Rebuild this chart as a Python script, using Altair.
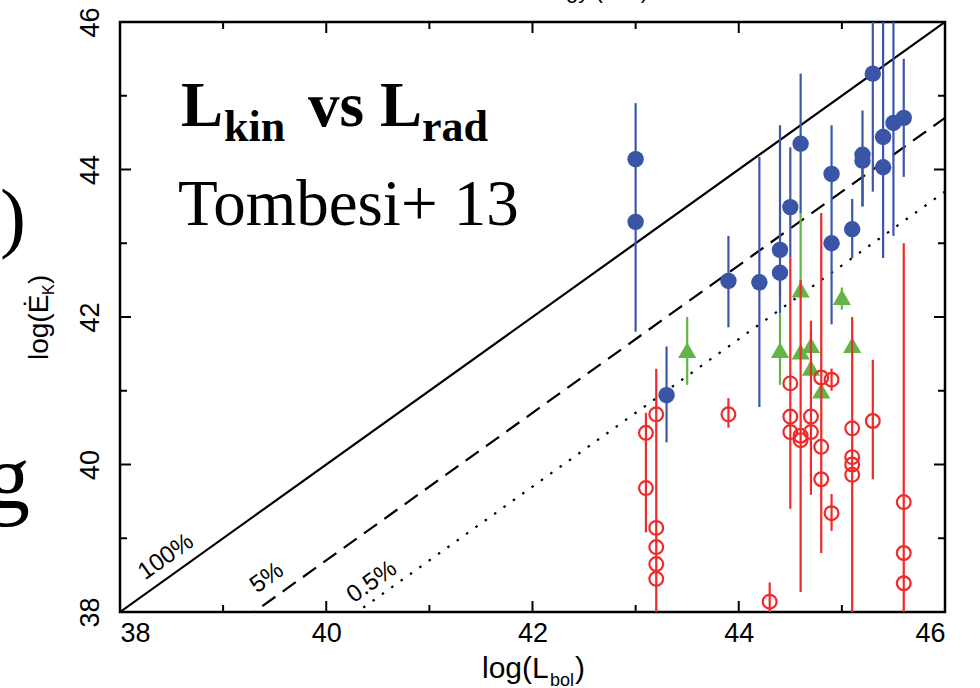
import altair as alt
import pandas as pd

# ---------------- data ----------------
# reference lines: Edot_K = L_bol (100%), 5% and 0.5%
line_x = [38.0, 46.0]
line_100 = [38.0, 46.0]
line_5 = [36.7, 44.7]
line_05 = [35.7, 43.7]

# blue filled circles
blue_x = [43.0, 43.0, 43.3, 43.9, 44.2, 44.4, 44.4, 44.5, 44.6, 44.9, 44.9, 45.1, 45.2, 45.2, 45.3, 45.4, 45.4, 45.5, 45.6]
blue_y = [44.14, 43.29, 40.94, 42.49, 42.47, 42.91, 42.60, 43.49, 44.35, 43.94, 43.00, 43.19, 44.20, 44.12, 45.30, 44.44, 44.03, 44.63, 44.70]
blue_lo = [43.29, 41.80, 40.30, 41.86, 40.78, 42.30, 42.05, 42.81, 43.41, 43.00, 41.90, 42.80, 43.50, 43.50, 43.70, 44.03, 42.80, 43.10, 43.90]
blue_hi = [44.90, 43.29, 41.60, 43.10, 44.17, 44.60, 42.60, 44.30, 45.30, 44.60, 43.00, 43.60, 44.80, 44.12, 46.30, 46.30, 44.03, 46.30, 45.50]

# green triangles
green_x = [43.5, 44.4, 44.6, 44.6, 44.7, 44.7, 44.8, 45.0, 45.1]
green_y = [41.55, 41.55, 42.37, 41.53, 41.62, 41.31, 41.00, 42.27, 41.62]
green_lo = [41.08, 41.08, 42.37, 41.53, 41.62, 41.31, 41.00, 42.10, 41.62]
green_hi = [42.00, 42.05, 43.41, 41.53, 41.78, 41.31, 41.00, 42.40, 41.62]

# red open circles
red_x = [43.1, 43.1, 43.2, 43.2, 43.2, 43.2, 43.2, 43.9, 44.3, 44.5, 44.5, 44.5, 44.6, 44.6, 44.7,
         44.7, 44.8, 44.8, 44.8, 44.9, 44.9, 45.1, 45.1, 45.1, 45.1, 45.3, 45.6, 45.6, 45.6]
red_y = [40.43, 39.68, 40.68, 39.14, 38.88, 38.65, 38.45, 40.68, 38.14, 41.10, 40.65, 40.44, 40.39, 40.33, 40.65,
         40.44, 41.18, 40.24, 39.80, 41.15, 39.34, 40.49, 40.10, 40.00, 39.86, 40.59, 39.49, 38.80, 38.39]
red_lo = [39.08, 39.68, 37.50, 39.14, 38.88, 38.65, 38.45, 40.50, 37.50, 39.40, 40.65, 40.44, 38.27, 40.33, 39.59,
          40.44, 38.80, 40.24, 39.80, 41.00, 39.10, 37.50, 40.10, 40.00, 39.86, 39.80, 37.50, 38.80, 38.39]
red_hi = [40.70, 39.68, 41.30, 39.14, 38.88, 38.65, 38.45, 40.90, 38.40, 42.81, 40.65, 40.44, 42.50, 40.33, 41.95,
          40.44, 43.41, 40.24, 39.80, 41.30, 39.60, 42.00, 40.10, 40.00, 39.86, 41.42, 43.00, 38.80, 38.39]

major_ticks = [38, 40, 42, 44, 46]
minor_ticks = [39, 41, 43, 45]

# ---------------- chart ----------------
W, H = 825, 590
SANS = "Liberation Sans"
SERIF = "Liberation Serif"

xs = alt.Scale(domain=[38, 46], nice=False, zero=False)
ys = alt.Scale(domain=[38, 46], nice=False, zero=False)
AX = alt.Axis(values=major_ticks, title=None, grid=False, ticks=False, tickSize=0, domain=False,
              labelFont=SANS, labelFontSize=27, labelColor="black", labelPadding=8, labelFlush=True)
AY = alt.Axis(values=major_ticks, title=None, grid=False, ticks=False, tickSize=0, domain=False,
              labelFont=SANS, labelFontSize=27, labelColor="black", labelAngle=270,
              labelAlign="center", labelBaseline="alphabetic", labelPadding=22, labelFlush=False)


def X(f):
    return alt.X(f, type="quantitative", scale=xs, axis=AX)


def Y(f):
    return alt.Y(f, type="quantitative", scale=ys, axis=AY)


layers = []

# lines
for ys_line, dash in [(line_100, []), (line_5, [16, 9]), (line_05, [2.5, 9])]:
    df = pd.DataFrame({"x": line_x, "y": ys_line})
    mk = dict(color="black", strokeWidth=2.2, clip=True)
    if dash:
        mk["strokeDash"] = dash
    layers.append(alt.Chart(df).mark_line(**mk).encode(x=X("x"), y=Y("y")))


def series(xv, yv, lo, hi, color, point_kwargs):
    df = pd.DataFrame({"x": xv, "y": yv, "lo": lo, "hi": hi})
    bars = alt.Chart(df).mark_rule(color=color, strokeWidth=2.2, clip=True).encode(
        x=X("x"), y=Y("lo"), y2="hi")
    pts = alt.Chart(df).mark_point(**point_kwargs).encode(x=X("x"), y=Y("y"))
    return [bars, pts]


layers += series(blue_x, blue_y, blue_lo, blue_hi, "#3b57aa",
                 dict(shape="circle", filled=True, size=270, color="#3a55a6", opacity=1))
layers += series(green_x, green_y, green_lo, green_hi, "#62b446",
                 dict(shape="triangle-up", filled=True, size=330, color="#62b446", opacity=1))
layers += series(red_x, red_y, red_lo, red_hi, "#ee2a2a",
                 dict(shape="circle", filled=False, size=190, color="#ee2a2a", strokeWidth=2.2, opacity=1))

# inward ticks on all four sides
for ticks, L in [(major_ticks, 11), (minor_ticks, 7)]:
    tdf = pd.DataFrame({"t": ticks})
    tk = dict(color="black", strokeWidth=2)
    layers.append(alt.Chart(tdf).mark_rule(**tk).encode(x=X("t"), y=alt.value(H), y2=alt.value(H - L)))
    layers.append(alt.Chart(tdf).mark_rule(**tk).encode(x=X("t"), y=alt.value(0), y2=alt.value(L)))
    layers.append(alt.Chart(tdf).mark_rule(**tk).encode(y=Y("t"), x=alt.value(0), x2=alt.value(L)))
    layers.append(alt.Chart(tdf).mark_rule(**tk).encode(y=Y("t"), x=alt.value(W), x2=alt.value(W - L)))

ONE = alt.Data(values=[{"a": 1}])


def txt(text, px, py, size, font=SANS, weight="normal", align="left", baseline="alphabetic", angle=0):
    kw = dict(text=text, font=font, fontSize=size, fontWeight=weight, align=align,
              baseline=baseline, color="black")
    if angle:
        kw["angle"] = angle
    return alt.Chart(ONE).mark_text(**kw).encode(x=alt.value(px), y=alt.value(py))


# line labels
ang = 324.4
layers.append(txt("100%", 46, 535, 24, align="center", baseline="middle", angle=ang))
layers.append(txt("5%", 147, 556, 24, align="center", baseline="middle", angle=ang))
layers.append(txt("0.5%", 252, 560, 24, align="center", baseline="middle", angle=ang))

# axis titles built from pieces (subscripts)
layers.append(txt("log(L", 362, 656, 30))
layers.append(txt("bol", 430, 664, 18))
layers.append(txt(")", 455, 656, 30))
layers.append(txt("log(\u0116", -72, 338, 28, angle=270))
layers.append(txt("K", -66, 273, 16, angle=270))
layers.append(txt(")", -72, 262, 28, angle=270))

# overlay slide text
layers.append(txt("L", 61, 104, 63, font=SERIF, weight="bold"))
layers.append(txt("kin", 104, 119, 44, font=SERIF, weight="bold"))
layers.append(txt("vs", 188, 104, 63, font=SERIF, weight="bold"))
layers.append(txt("L", 260, 104, 63, font=SERIF, weight="bold"))
layers.append(txt("rad", 302, 119, 44, font=SERIF, weight="bold"))
layers.append(txt("Tombesi+ 13", 58, 203, 65, font=SERIF))

# cut-off fragments at the edges
layers.append(txt(")", -120, 221, 78, font=SERIF))
layers.append(txt("g", -90, 486, 90, font=SERIF, align="right"))
layers.append(txt("Energy (keV)", 528, -24, 22, align="right"))

chart = alt.layer(*layers).properties(
    width=W, height=H,
    padding={"left": 120, "top": 22, "right": 35, "bottom": 76},
    autosize=alt.AutoSizeParams(type="none"),
    background="white",
).configure_view(stroke="black", strokeWidth=2.5)

chart.save("out.html", embed_options={"renderer": "svg", "actions": False})
